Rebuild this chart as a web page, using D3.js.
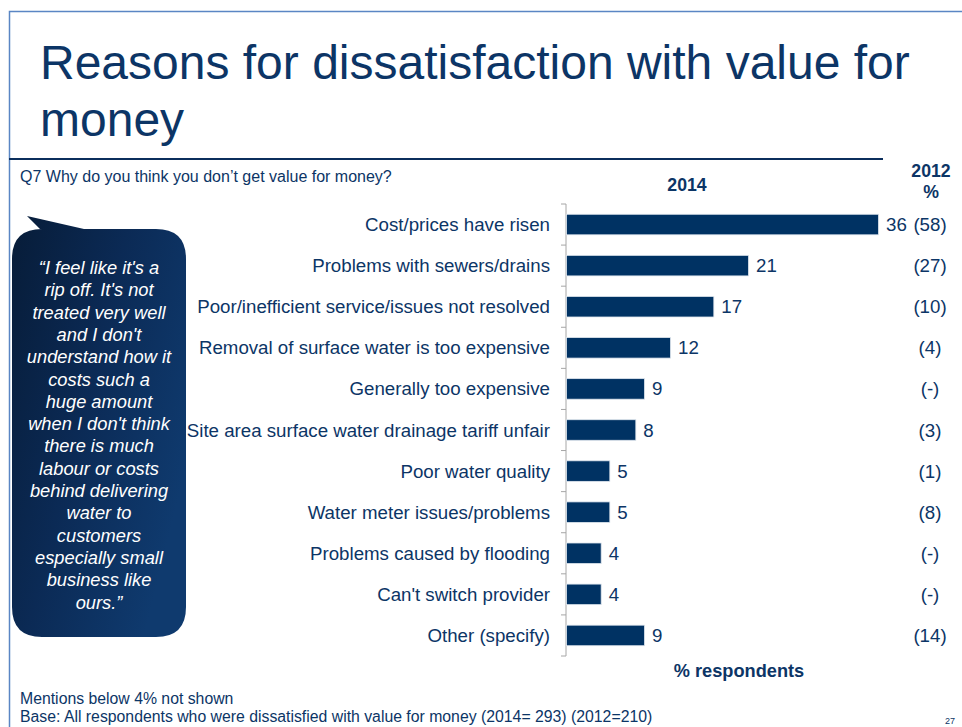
<!DOCTYPE html>
<html>
<head>
<meta charset="utf-8">
<script src="https://d3js.org/d3.v7.min.js"></script>
<style>
  html, body { margin: 0; padding: 0; background: #fff; }
  svg { display: block; font-family: "Liberation Sans", Arial, sans-serif; }
</style>
</head>
<body>
<svg id="chart" width="962" height="727"></svg>
<script>
// Survey responses: reasons for dissatisfaction with value for money
const categories = [
  "Cost/prices have risen",
  "Problems with sewers/drains",
  "Poor/inefficient service/issues not resolved",
  "Removal of surface water is too expensive",
  "Generally too expensive",
  "Site area surface water drainage tariff unfair",
  "Poor water quality",
  "Water meter issues/problems",
  "Problems caused by flooding",
  "Can't switch provider",
  "Other (specify)"
];
const values2014 = [36, 21, 17, 12, 9, 8, 5, 5, 4, 4, 9];
const values2012 = ["(58)", "(27)", "(10)", "(4)", "(-)", "(3)", "(1)", "(8)", "(-)", "(-)", "(14)"];

const quoteLines = [
  "\u201CI feel like it's a",
  "rip off. It's not",
  "treated very well",
  "and I don't",
  "understand how it",
  "costs such a",
  "huge amount",
  "when I don't think",
  "there is much",
  "labour or costs",
  "behind delivering",
  "water to",
  "customers",
  "especially small",
  "business like",
  "ours.\u201D"
];

const navy = "#0c3566";
const barFill = "#003263";
const labelSize = 18.7;
const svg = d3.select("#chart");

// Slide frame
svg.append("path")
  .attr("d", "M9.5,727 V11.5 H962")
  .attr("fill", "none").attr("stroke", "#5a86c4").attr("stroke-width", 1.5);

// Title
const title = svg.append("text").attr("x", 40).attr("fill", navy)
  .attr("font-size", 48);
title.append("tspan").attr("x", 40).attr("y", 79).text("Reasons for dissatisfaction with value for");
title.append("tspan").attr("x", 40).attr("y", 136).text("money");

// Rule under title
svg.append("line").attr("x1", 9).attr("x2", 883).attr("y1", 159).attr("y2", 159)
  .attr("stroke", "#0b2e5c").attr("stroke-width", 2);

svg.append("text").attr("x", 20).attr("y", 182).attr("font-size", 16).attr("fill", navy)
  .text("Q7 Why do you think you don\u2019t get value for money?");

// Column headers
svg.append("text").attr("x", 687).attr("y", 191).attr("text-anchor", "middle")
  .attr("font-size", 17.7).attr("font-weight", "bold").attr("fill", navy).text("2014");
svg.append("text").attr("x", 931).attr("y", 177).attr("text-anchor", "middle")
  .attr("font-size", 17.7).attr("font-weight", "bold").attr("fill", navy).text("2012");
svg.append("text").attr("x", 931).attr("y", 198).attr("text-anchor", "middle")
  .attr("font-size", 17.7).attr("font-weight", "bold").attr("fill", navy).text("%");

// Scales
const x = d3.scaleLinear().domain([0, 36]).range([566, 878]);
const y = d3.scaleBand().domain(categories).range([204, 656]).paddingInner(0.5).paddingOuter(0.25);
const yBand = d3.scaleBand().domain(categories).range([204, 656]);

// Axis line with boundary ticks
const axisG = svg.append("g");
axisG.append("line").attr("x1", 566).attr("x2", 566).attr("y1", 204).attr("y2", 656)
  .attr("stroke", "#a6a6a6").attr("stroke-width", 1);
const bounds = categories.map(c => yBand(c)).concat([yBand.range()[1]]);
axisG.selectAll(".tk").data(bounds).join("line")
  .attr("x1", 561).attr("x2", 566).attr("y1", d => d).attr("y2", d => d)
  .attr("stroke", "#a6a6a6").attr("stroke-width", 1);

// Bars
svg.append("g").selectAll("rect").data(categories).join("rect")
  .attr("x", x(0) + 0.5)
  .attr("y", d => y(d))
  .attr("width", (d, i) => x(values2014[i]) - x(0))
  .attr("height", y.bandwidth())
  .attr("fill", barFill)
  .attr("stroke", "#dfe6ee").attr("stroke-width", 0.8);

// Category labels
svg.append("g").selectAll("text").data(categories).join("text")
  .attr("x", 550)
  .attr("y", d => y(d) + y.bandwidth() / 2)
  .attr("dy", "0.35em")
  .attr("text-anchor", "end")
  .attr("font-size", labelSize)
  .attr("fill", navy)
  .text(d => d);

// 2014 value labels
svg.append("g").selectAll("text").data(categories).join("text")
  .attr("x", (d, i) => x(values2014[i]) + 8)
  .attr("y", d => y(d) + y.bandwidth() / 2)
  .attr("dy", "0.35em")
  .attr("font-size", labelSize)
  .attr("fill", navy)
  .text((d, i) => values2014[i]);

// 2012 comparison column
svg.append("g").selectAll("text").data(categories).join("text")
  .attr("x", 930)
  .attr("y", d => y(d) + y.bandwidth() / 2)
  .attr("dy", "0.35em")
  .attr("text-anchor", "middle")
  .attr("font-size", labelSize)
  .attr("fill", navy)
  .text((d, i) => values2012[i]);

svg.append("text").attr("x", 739).attr("y", 677).attr("text-anchor", "middle")
  .attr("font-size", 18.2).attr("font-weight", "bold").attr("fill", navy).text("% respondents");

// Quote bubble
const defs = svg.append("defs");
const grad = defs.append("linearGradient").attr("id", "bubbleGrad")
  .attr("x1", "0").attr("y1", "0").attr("x2", "1").attr("y2", "0.6");
grad.append("stop").attr("offset", "0").attr("stop-color", "#071c38");
grad.append("stop").attr("offset", "0.5").attr("stop-color", "#0b2a55");
grad.append("stop").attr("offset", "1").attr("stop-color", "#0f3a6e");

const bx0 = 12, bx1 = 186, by0 = 229, by1 = 637, r = 30;
const bubblePath = [
  `M${bx0 + r},${by0}`,
  `L40,${by0}`,
  `L27,216`,
  `L84,${by0}`,
  `L${bx1 - r},${by0}`,
  `Q${bx1},${by0} ${bx1},${by0 + r}`,
  `L${bx1},${by1 - r}`,
  `Q${bx1},${by1} ${bx1 - r},${by1}`,
  `L${bx0 + r},${by1}`,
  `Q${bx0},${by1} ${bx0},${by1 - r}`,
  `L${bx0},${by0 + r}`,
  `Q${bx0},${by0} ${bx0 + r},${by0}`,
  "Z"
].join(" ");
svg.append("path").attr("d", bubblePath).attr("fill", "url(#bubbleGrad)");

svg.append("g").selectAll("text").data(quoteLines).join("text")
  .attr("x", 99)
  .attr("y", (d, i) => 274 + i * 22.3)
  .attr("text-anchor", "middle")
  .attr("font-size", 18.3)
  .attr("font-style", "italic")
  .attr("fill", "#ffffff")
  .text(d => d);

// Footnotes
svg.append("text").attr("x", 20).attr("y", 704).attr("font-size", 15.8).attr("fill", navy)
  .text("Mentions below 4% not shown");
svg.append("text").attr("x", 20).attr("y", 722).attr("font-size", 15.8).attr("fill", navy)
  .text("Base: All respondents who were dissatisfied with value for money (2014= 293) (2012=210)");
svg.append("text").attr("x", 950).attr("y", 724).attr("text-anchor", "middle")
  .attr("font-size", 9).attr("fill", navy).text("27");
</script>
</body>
</html>
